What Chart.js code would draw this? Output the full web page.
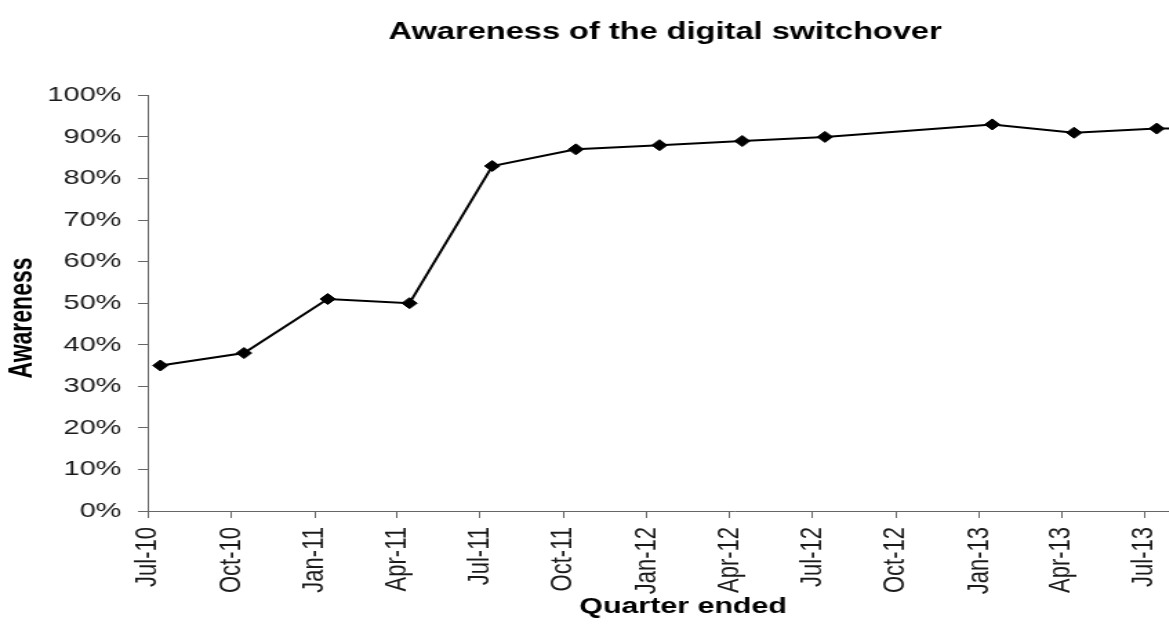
<!DOCTYPE html>
<html>
<head>
<meta charset="utf-8">
<title>Awareness of the digital switchover</title>
<script src="https://cdn.jsdelivr.net/npm/chart.js@4/dist/chart.umd.min.js"></script>
<style>
  html, body { margin: 0; padding: 0; background: #fff; overflow: hidden; }
  #wrap { width: 964px; height: 635px; transform: scaleX(1.38); transform-origin: 0 0; }
  canvas { display: block; }
</style>
</head>
<body>
<div id="wrap"><canvas id="chart" width="964" height="635"></canvas></div>
<script>
// Quarter tick marks on the horizontal axis
const quarterLabels = ['Jul-10', 'Oct-10', 'Jan-11', 'Apr-11', 'Jul-11', 'Oct-11', 'Jan-12',
                       'Apr-12', 'Jul-12', 'Oct-12', 'Jan-13', 'Apr-13', 'Jul-13'];
const quarterStarts = ['2010-07-01', '2010-10-01', '2011-01-01', '2011-04-01', '2011-07-01',
                       '2011-10-01', '2012-01-01', '2012-04-01', '2012-07-01', '2012-10-01',
                       '2013-01-01', '2013-04-01', '2013-07-01'];
const axisEnd = '2014-01-12';

// Survey results (no survey in the Oct-12 quarter)
const surveyDates = ['2010-07-15', '2010-10-15', '2011-01-15', '2011-04-15', '2011-07-15',
                     '2011-10-15', '2012-01-15', '2012-04-15', '2012-07-15',
                     '2013-01-15', '2013-04-15', '2013-07-15', '2013-10-15'];
const awareness = [35, 38, 51, 50, 83, 87, 88, 89, 90, 93, 91, 92, 92];

const yTicks = [0, 10, 20, 30, 40, 50, 60, 70, 80, 90, 100];

const dayNum = s => Date.UTC(+s.slice(0, 4), +s.slice(5, 7) - 1, +s.slice(8, 10)) / 86400000;

const FONT = '"Liberation Sans", Arial, sans-serif';
const AXIS = '#666666';

// Axis titles, placed relative to the plotted quarters
const axisTitles = {
  id: 'axisTitles',
  afterDraw(chart) {
    const { ctx } = chart;
    ctx.save();
    ctx.fillStyle = '#000';
    ctx.textAlign = 'center';
    ctx.textBaseline = 'middle';
    ctx.font = 'bold 22px ' + FONT;
    ctx.fillText('Quarter ended', 495, 607);
    ctx.translate(16.5, 318);
    ctx.rotate(-Math.PI / 2);
    ctx.font = 'bold 23px ' + FONT;
    ctx.fillText('Awareness', 0, 0);
    ctx.restore();
  }
};

new Chart(document.getElementById('chart'), {
  type: 'line',
  data: {
    datasets: [{
      label: 'Awareness',
      data: surveyDates.map((d, i) => ({ x: dayNum(d), y: awareness[i] })),
      borderColor: '#000',
      backgroundColor: '#000',
      borderWidth: 2,
      pointStyle: 'rectRot',
      pointRadius: 5.5,
      pointBorderWidth: 1,
      pointBackgroundColor: '#000',
      pointBorderColor: '#000',
      tension: 0,
      fill: false
    }]
  },
  options: {
    responsive: false,
    animation: false,
    devicePixelRatio: 1,
    layout: { padding: 0 },
    plugins: {
      legend: { display: false },
      tooltip: { enabled: false },
      title: {
        display: true,
        text: 'Awareness of the digital switchover',
        color: '#000',
        font: { family: FONT, size: 23.6, weight: 'bold' },
        padding: { top: 18, bottom: 49 }
      }
    },
    scales: {
      x: {
        type: 'linear',
        min: dayNum(quarterStarts[0]),
        max: dayNum(axisEnd),
        afterBuildTicks: scale => {
          scale.ticks = quarterStarts.map(d => ({ value: dayNum(d) }));
        },
        afterFit: scale => { scale.height = 124; },
        grid: { display: true, drawOnChartArea: false, drawTicks: true, tickLength: 7, color: AXIS, lineWidth: 1 },
        border: { display: true, color: AXIS, width: 1 },
        ticks: {
          autoSkip: false,
          maxRotation: 90,
          minRotation: 90,
          padding: 9,
          color: '#1a1a1a',
          font: { family: FONT, size: 22 },
          callback: (value, index) => quarterLabels[index]
        }
      },
      y: {
        min: 0,
        max: 100,
        afterBuildTicks: scale => {
          scale.ticks = yTicks.map(v => ({ value: v }));
        },
        afterFit: scale => { scale.width = 107; },
        grid: { display: true, drawOnChartArea: false, drawTicks: true, tickLength: 7, color: AXIS, lineWidth: 1 },
        border: { display: true, color: AXIS, width: 1 },
        ticks: {
          padding: 12,
          color: '#1a1a1a',
          font: { family: FONT, size: 21 },
          callback: v => v + '%'
        }
      }
    }
  },
  plugins: [axisTitles]
});
</script>
</body>
</html>
